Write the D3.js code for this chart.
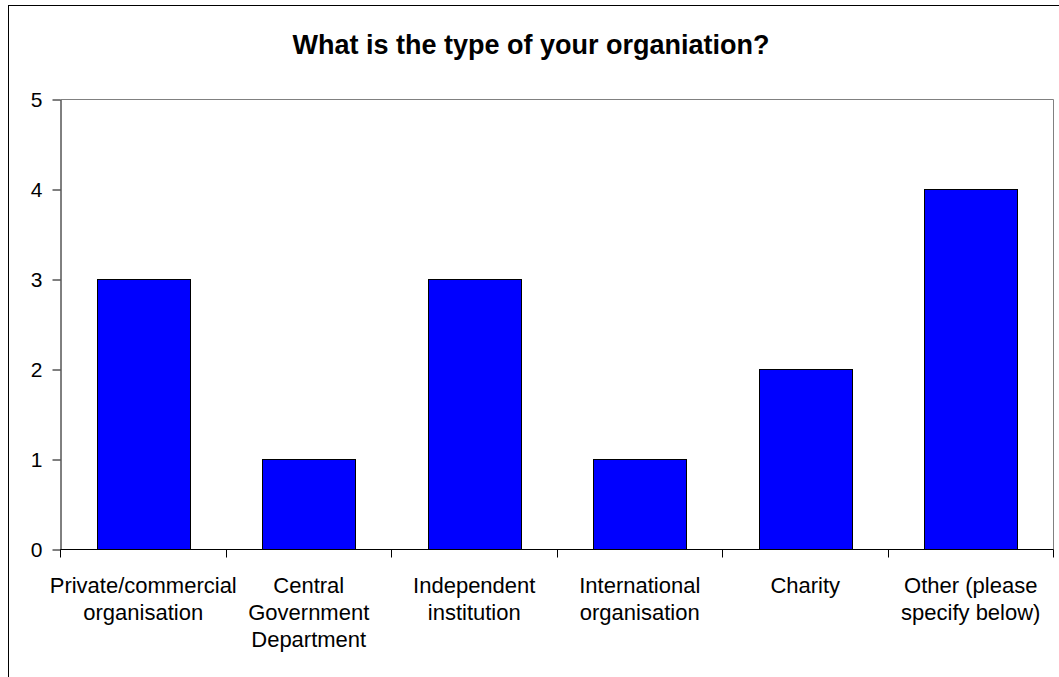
<!DOCTYPE html>
<html>
<head>
<meta charset="utf-8">
<script src="https://cdn.jsdelivr.net/npm/d3@7"></script>
<style>
  html, body { margin: 0; padding: 0; background: #fff; }
  svg { display: block; font-family: "Liberation Sans", Arial, sans-serif; }
</style>
</head>
<body>
<svg id="chart" width="1059" height="677"></svg>
<script>
// Survey responses: organisation type counts
const categories = [
  "Private/commercial\norganisation",
  "Central\nGovernment\nDepartment",
  "Independent\ninstitution",
  "International\norganisation",
  "Charity",
  "Other (please\nspecify below)"
];
const counts = [3, 1, 3, 1, 2, 4];
const yTicks = [0, 1, 2, 3, 4, 5];
const title = "What is the type of your organiation?";

const svg = d3.select("#chart");
const plot = { left: 60.5, right: 1053.5, top: 99.5, bottom: 549.5 };

// outer chart frame
svg.append("rect")
  .attr("x", 8.5).attr("y", 5.5)
  .attr("width", 1100).attr("height", 720)
  .attr("fill", "#fff").attr("stroke", "#000").attr("stroke-width", 1);

// title
svg.append("text")
  .attr("x", 531).attr("y", 54)
  .attr("text-anchor", "middle")
  .attr("font-size", 27).attr("font-weight", "bold")
  .attr("fill", "#000")
  .text(title);

const x = d3.scaleBand()
  .domain(categories)
  .range([plot.left, plot.right])
  .paddingInner(0.44)
  .paddingOuter(0.22);

const y = d3.scaleLinear()
  .domain([0, 5])
  .range([plot.bottom, plot.top]);

// plot area border (top and right)
svg.append("path")
  .attr("d", `M${plot.left},${plot.top}H${plot.right}V${plot.bottom}`)
  .attr("fill", "none").attr("stroke", "#808080").attr("stroke-width", 1);

// bars
svg.append("g").selectAll("rect")
  .data(categories)
  .join("rect")
  .attr("x", d => Math.round(x(d)) + 0.5)
  .attr("width", Math.round(x.bandwidth()))
  .attr("y", (d, i) => Math.round(y(counts[i]) - 0.5) + 0.5)
  .attr("height", (d, i) => Math.round(y(0) - y(counts[i])))
  .attr("fill", "#0000ff")
  .attr("stroke", "#000")
  .attr("stroke-width", 1);

// y axis
const yAxis = svg.append("g")
  .attr("transform", `translate(${plot.left},0)`)
  .call(d3.axisLeft(y).tickValues(yTicks).tickFormat(d3.format("d")).tickSize(8).tickPadding(10).tickSizeOuter(0));
yAxis.select(".domain").attr("stroke", "#000");
yAxis.selectAll(".tick line").attr("stroke", "#000");
yAxis.selectAll(".tick text")
  .attr("font-size", 21)
  .attr("font-family", "'Liberation Sans', Arial, sans-serif")
  .attr("fill", "#000");

// x axis: baseline with ticks at category boundaries
const boundaries = d3.range(categories.length + 1).map(i => plot.left + i * (plot.right - plot.left) / categories.length);
svg.append("line")
  .attr("x1", plot.left).attr("x2", plot.right)
  .attr("y1", plot.bottom).attr("y2", plot.bottom)
  .attr("stroke", "#000");
svg.append("g").selectAll("line")
  .data(boundaries)
  .join("line")
  .attr("x1", d => Math.round(d - 0.5) + 0.5).attr("x2", d => Math.round(d - 0.5) + 0.5)
  .attr("y1", plot.bottom).attr("y2", plot.bottom + 8)
  .attr("stroke", "#000");

// category labels, wrapped across lines
const labels = svg.append("g")
  .attr("font-size", 22)
  .attr("text-anchor", "middle")
  .attr("fill", "#000");
labels.selectAll("text")
  .data(categories)
  .join("text")
  .attr("x", d => x(d) + x.bandwidth() / 2)
  .attr("y", 593)
  .each(function(d) {
    const t = d3.select(this);
    d.split("\n").forEach((line, i) => {
      t.append("tspan")
        .attr("x", x(d) + x.bandwidth() / 2)
        .attr("dy", i === 0 ? 0 : 27)
        .text(line);
    });
  });
</script>
</body>
</html>
